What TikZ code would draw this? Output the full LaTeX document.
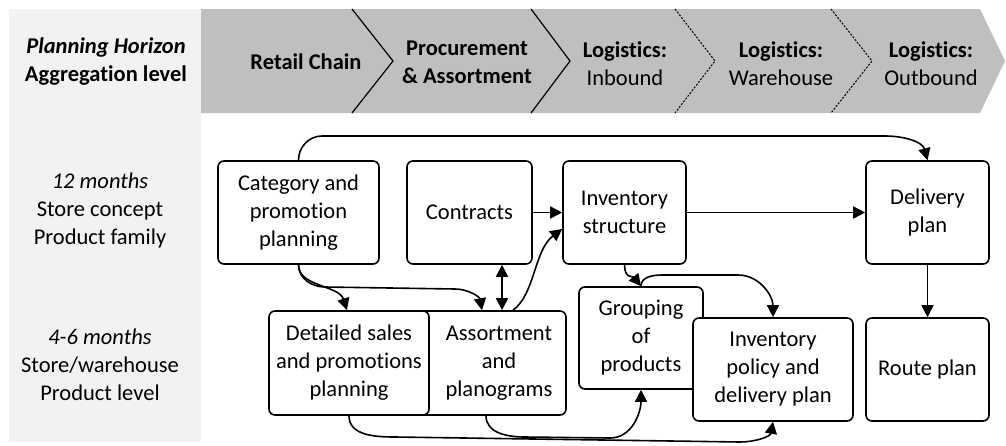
\documentclass[tikz,border=0pt]{standalone}
\usepackage{fontspec}
\setmainfont{Carlito}[Ligatures=NoCommon]
\usetikzlibrary{arrows.meta}
\definecolor{panel}{HTML}{F2F2F2}
\definecolor{band}{HTML}{BFBFBF}
\begin{document}
\begin{tikzpicture}[x=1pt,y=1pt,
  box/.style={draw, line width=1.6pt, rounded corners=6pt, fill=white, inner sep=0pt, align=center, font=\fontsize{22.5}{28}\selectfont},
  lbl/.style={align=center, inner sep=0pt, font=\fontsize{22.5}{28}\selectfont},
  tip/.tip={Triangle[length=12pt,width=12pt]},
  arr/.style={line width=1.6pt, -tip},
  arrtwo/.style={line width=1.6pt, tip-tip},
  sepline/.style={line width=1.2pt},
  dotline/.style={line width=1pt, dash pattern=on 2pt off 1.5pt},
]
\useasboundingbox (0,0) rectangle (1006,-445);
% background panels
\fill[panel] (9,-9) rectangle (201,-442);
\fill[band] (201,-9) -- (980,-9) -- (1005,-61) -- (980,-113) -- (201,-113) -- cycle;
\draw[sepline] (352,-9) -- (393,-61) -- (352,-113);
\draw[sepline] (531,-9) -- (570,-61) -- (531,-113);
\draw[dotline] (675,-9) -- (715,-61) -- (675,-113);
\draw[dotline] (831,-9) -- (872,-61) -- (831,-113);

% header texts
\node[lbl] (hdr) at (106,-62) {\textbf{\textit{Planning Horizon}}\\\textbf{Aggregation level}};
\node[lbl] (retail) at (306,-62) {\textbf{Retail Chain}};
\node[lbl] (proc) at (467,-62) {\textbf{Procurement}\\\textbf{\& Assortment}};
\node[lbl] (inb) at (625,-64) {\textbf{Logistics:}\\Inbound};
\node[lbl] (wh) at (781,-64) {\textbf{Logistics:}\\Warehouse};
\node[lbl] (outb) at (931,-64) {\textbf{Logistics:}\\Outbound};

% row labels
\node[lbl] (row1) at (100,-210) {\textit{12 months}\\Store concept\\Product family};
\node[lbl] (row2) at (100,-365) {\textit{4-6 months}\\Store/warehouse\\Product level};

% boxes
\node[box, minimum width=161pt, minimum height=103pt] (cat) at (298.5,-212.5) {Category and\\promotion\\planning};
\node[box, minimum width=125pt, minimum height=103pt] (con) at (469.5,-212.5) {Contracts};
\node[box, minimum width=123pt, minimum height=103pt] (inv) at (624.5,-212.5) {Inventory\\structure};
\node[box, minimum width=123pt, minimum height=103pt] (del) at (927.5,-212.5) {Delivery\\plan};

\node[box, minimum width=151pt, minimum height=104pt] (asg) at (490.5,-363) {};
\node[lbl] (asgtext) at (499,-363) {Assortment\\and\\planograms};
\node[box, minimum width=160pt, minimum height=104pt] (det) at (349,-363) {Detailed sales\\and promotions\\planning};
\node[box, minimum width=124pt, minimum height=102pt] (grp) at (641,-338) {Grouping\\of\\products};
\node[box, minimum width=160pt, minimum height=103pt] (pol) at (773,-369.5) {Inventory\\policy and\\delivery plan};
\node[box, minimum width=123pt, minimum height=103pt] (rte) at (927.5,-369.5) {Route plan};

% connector helper coordinates
\coordinate (ta) at (322,-136);
\coordinate (tb) at (885,-136);
\coordinate (ca) at (325,-287);
\coordinate (cb) at (455,-289);
\coordinate (ga) at (662,-275);
\coordinate (gb) at (738,-275);
\coordinate (da) at (395,-437);
\coordinate (db) at (740,-442);
\coordinate (aa) at (525,-437);
\coordinate (ab) at (610,-438);

% connectors
\draw[arr] (cat.north) to[out=90,in=180] (ta) -- (tb) to[out=0,in=105] (del.north);
\draw[arr] (cat.south) .. controls +(0,-22) and +(-8,25) .. ([xshift=-2pt]det.north);
\draw[arr] (cat.south) to[out=-90,in=180] (ca) -- (cb) to[out=0,in=100] ([xshift=-8.5pt]asg.north);
\draw[arrtwo] ([xshift=32.5pt]con.south) -- ([xshift=32.5pt]con.south |- asg.north);
\draw[arr] ([xshift=22.5pt]asg.north) .. controls +(22,16) and +(-28,-21) .. ([yshift=-16.5pt]inv.west);
\draw[arr] (con.east) -- (inv.west);
\draw[arr] (inv.east) -- (del.west);
\draw[arr] (del.south) -- (rte.north);
\draw[arr] (inv.south) .. controls +(0,-14) and +(-8,10) .. (grp.north);
\draw[arr] (grp.north) to[out=90,in=180] (ga) -- (gb) to[out=0,in=90] (pol.north);
\draw[arr] (det.south) to[out=-90,in=180] (da) -- (db) to[out=0,in=-100] (pol.south);
\draw[arr] ([xshift=-4.5pt]asg.south) to[out=-90,in=180] (aa) -- (ab) to[out=0,in=-90] (grp.south);
\end{tikzpicture}
\end{document}
